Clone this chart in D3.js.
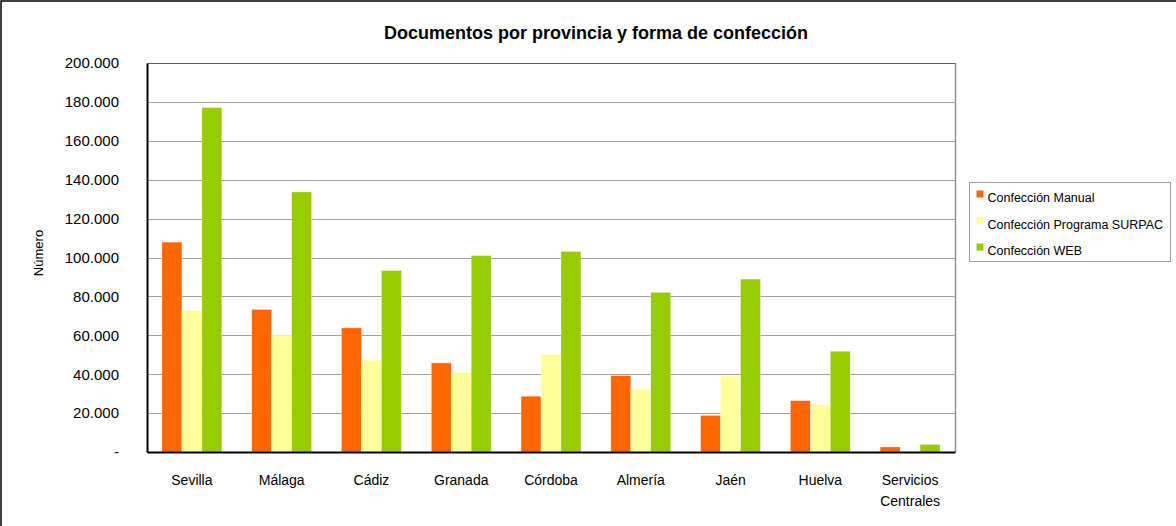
<!DOCTYPE html>
<html>
<head>
<meta charset="utf-8">
<script src="https://cdn.jsdelivr.net/npm/d3@7"></script>
<style>
  body { margin: 0; background: #fff; }
  svg { display: block; font-family: "Liberation Sans", Arial, sans-serif; }
</style>
</head>
<body>
<div id="chart"></div>
<script>
// data
let provincias = ["Sevilla", "Málaga", "Cádiz", "Granada", "Córdoba", "Almería", "Jaén", "Huelva", "Servicios Centrales"];
let series = ["Confección Manual", "Confección Programa SURPAC", "Confección WEB"];
let manual = [107900, 73300, 63800, 45800, 28700, 39300, 18800, 26400, 2600];
let surpac = [72700, 60000, 47200, 40900, 50100, 32200, 39000, 24300, 0];
let web = [177100, 133700, 93300, 101000, 103100, 82100, 88900, 51800, 3900];
let yTicks = [0, 20000, 40000, 60000, 80000, 100000, 120000, 140000, 160000, 180000, 200000];

let colors = ["#FF6600", "#FFFF99", "#99CC00"];

let width = 1176;
let height = 526;

// plot area
let margin = { top: 63, right: 221, bottom: 74, left: 147 };
let plotW = width - margin.left - margin.right;
let plotH = height - margin.top - margin.bottom;

let svg = d3.select("#chart")
    .append("svg")
    .attr("width", width)
    .attr("height", height);

// outer frame (right and bottom sit outside the picture)
svg.append("rect")
    .attr("x", 1)
    .attr("y", 1)
    .attr("width", width + 10)
    .attr("height", height + 10)
    .attr("fill", "none")
    .attr("stroke", "#000")
    .attr("stroke-width", 1.5);

svg.append("text")
    .attr("x", 596)
    .attr("y", 39)
    .attr("text-anchor", "middle")
    .style("font-size", "18px")
    .style("font-weight", "bold")
    .text("Documentos por provincia y forma de confección");

let g = svg.append("g")
    .attr("transform", "translate(" + margin.left + "," + margin.top + ")");

let x0 = d3.scaleBand()
    .domain(provincias)
    .range([0, plotW])
    .paddingInner(1 / 3)
    .paddingOuter(1 / 6);

let x1 = d3.scaleBand()
    .domain(series)
    .range([0, x0.bandwidth()]);

let y = d3.scaleLinear()
    .domain([0, 200000])
    .range([plotH, 0]);

// gridlines
g.append("g")
    .selectAll("line")
    .data(yTicks.slice(1))
    .enter()
    .append("line")
    .attr("x1", 0)
    .attr("x2", plotW)
    .attr("y1", function (d) { return Math.round(y(d)) + 0.5; })
    .attr("y2", function (d) { return Math.round(y(d)) + 0.5; })
    .attr("stroke", "#a0a0a0")
    .attr("stroke-width", 1);

// right border
g.append("line")
    .attr("x1", plotW + 0.5)
    .attr("x2", plotW + 0.5)
    .attr("y1", 0)
    .attr("y2", plotH)
    .attr("stroke", "#909090")
    .attr("stroke-width", 1.5);

let rows = provincias.map(function (p, i) {
    return { prov: p, values: [manual[i], surpac[i], web[i]] };
});

let groups = g.selectAll(".grp")
    .data(rows)
    .enter()
    .append("g")
    .attr("class", "grp")
    .attr("transform", function (d) { return "translate(" + x0(d.prov) + ",0)"; });

groups.selectAll("rect")
    .data(function (d) {
        return d.values.map(function (v, k) { return { s: series[k], v: v, k: k }; });
    })
    .enter()
    .append("rect")
    .attr("x", function (d) { return x1(d.s); })
    .attr("y", function (d) { return y(d.v); })
    .attr("width", x1.bandwidth())
    .attr("height", function (d) { return plotH - y(d.v); })
    .attr("fill", function (d) { return colors[d.k]; })
    .attr("stroke", "#fff")
    .attr("stroke-opacity", 0.5)
    .attr("stroke-width", 0.6);

// y axis
let yAxis = g.append("g")
    .call(d3.axisLeft(y)
        .tickValues(yTicks)
        .tickSize(0)
        .tickPadding(28)
        .tickFormat(function (d) {
            return d === 0 ? "-" : d3.format(",")(d).replace(/,/g, ".");
        }));
yAxis.select(".domain").attr("stroke", "#000").attr("stroke-width", 2);
yAxis.selectAll("text")
    .style("font-size", "15px")
    .style("font-family", "inherit")
    .attr("fill", "#000");

// top border
g.append("line")
    .attr("x1", 0)
    .attr("x2", plotW)
    .attr("y1", 0.5)
    .attr("y2", 0.5)
    .attr("stroke", "#606060")
    .attr("stroke-width", 1);

// x axis
let xAxis = g.append("g")
    .attr("transform", "translate(0," + plotH + ")")
    .call(d3.axisBottom(x0).tickSize(0).tickPadding(23));
xAxis.select(".domain").attr("stroke", "#000").attr("stroke-width", 2);
xAxis.selectAll("text")
    .style("font-size", "14px")
    .style("font-family", "inherit")
    .attr("fill", "#000")
    .each(function (d) {
        let words = d.split(" ");
        if (words.length > 1) {
            let t = d3.select(this).text(null);
            words.forEach(function (w, i) {
                t.append("tspan")
                    .attr("x", 0)
                    .attr("dy", i === 0 ? "0.71em" : "1.5em")
                    .text(w);
            });
            t.attr("dy", null);
        }
    });

// y title
svg.append("text")
    .attr("transform", "translate(43,253) rotate(-90)")
    .attr("text-anchor", "middle")
    .style("font-size", "13px")
    .text("Número");

// legend
let legend = svg.append("g").attr("transform", "translate(969.5,182.5)");
legend.append("rect")
    .attr("width", 201)
    .attr("height", 79)
    .attr("fill", "#fff")
    .attr("stroke", "#a0a0a0");

let items = legend.selectAll(".item")
    .data(series)
    .enter()
    .append("g")
    .attr("class", "item")
    .attr("transform", function (d, i) { return "translate(7," + (15.5 + i * 26.5) + ")"; });

items.append("rect")
    .attr("x", 0)
    .attr("y", -7.5)
    .attr("width", 7)
    .attr("height", 7)
    .attr("fill", function (d, i) { return colors[i]; });

items.append("text")
    .attr("x", 11)
    .attr("y", 0)
    .attr("dy", "0.35em")
    .style("font-size", "12.5px")
    .text(function (d) { return d; });
</script>
</body>
</html>
